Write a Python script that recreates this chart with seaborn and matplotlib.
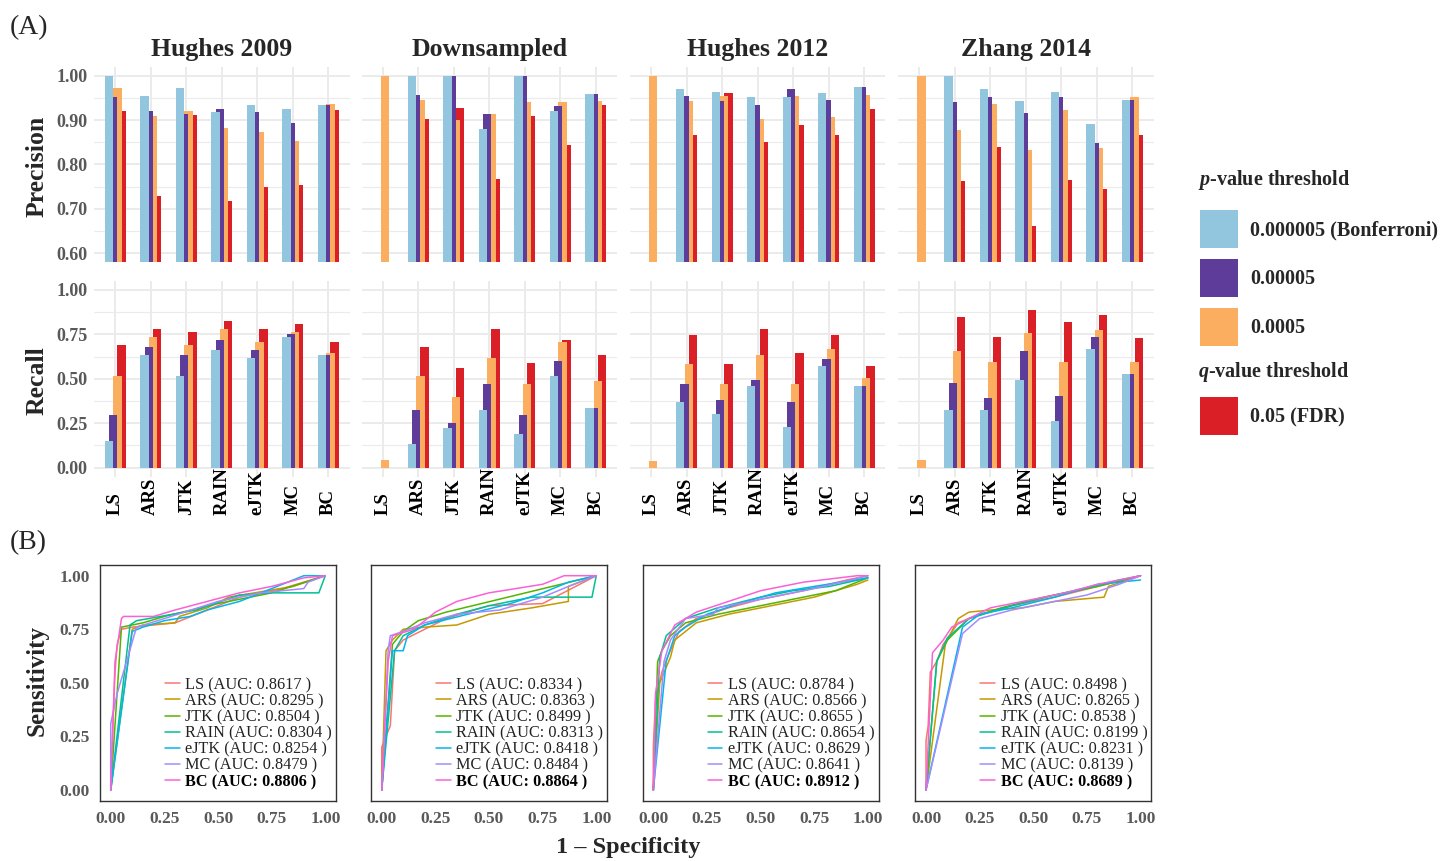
import numpy as np
import pandas as pd
import matplotlib
matplotlib.use("Agg")
import matplotlib.pyplot as plt
import seaborn as sns
from matplotlib.patches import Patch

sns.set_style("white")
plt.rcParams['font.family'] = ['Liberation Serif', 'DejaVu Serif']
plt.rcParams['font.weight'] = 'bold'
plt.rcParams['mathtext.fontset'] = 'custom'
plt.rcParams['mathtext.it'] = 'Liberation Serif:italic:bold'
plt.rcParams['mathtext.rm'] = 'Liberation Serif:bold'

# ---------------- data ----------------
datasets = ["Hughes 2009", "Downsampled", "Hughes 2012", "Zhang 2014"]
methods = ["LS", "ARS", "JTK", "RAIN", "eJTK", "MC", "BC"]
thresholds = ["0.000005 (Bonferroni)", "0.00005", "0.0005", "0.05 (FDR)"]
threshold_colors = ["#92C5DE", "#5E3C99", "#FBAD60", "#DA1F26"]
nan = np.nan

# precision: rows = thresholds (Bonferroni, 5e-5, 5e-4, FDR), cols = methods
precision_hughes2009 = [[1.000, 0.955, 0.972, 0.918, 0.934, 0.925, 0.934],
                        [0.952, 0.920, 0.914, 0.925, 0.918, 0.894, 0.934],
                        [0.972, 0.909, 0.920, 0.882, 0.873, 0.853, 0.936],
                        [0.920, 0.728, 0.911, 0.718, 0.748, 0.754, 0.923]]
precision_downsampled = [[nan, 1.000, 1.000, 0.880, 1.000, 0.920, 0.959],
                         [nan, 0.956, 1.000, 0.914, 1.000, 0.932, 0.959],
                         [1.000, 0.945, 0.900, 0.914, 0.941, 0.941, 0.943],
                         [nan, 0.902, 0.927, 0.767, 0.909, 0.844, 0.934]]
precision_hughes2012 = [[nan, 0.970, 0.963, 0.952, 0.952, 0.961, 0.974],
                        [nan, 0.954, 0.943, 0.934, 0.970, 0.945, 0.974],
                        [1.000, 0.943, 0.954, 0.902, 0.954, 0.907, 0.956],
                        [nan, 0.866, 0.961, 0.851, 0.889, 0.866, 0.925]]
precision_zhang2014 = [[nan, 1.000, 0.970, 0.943, 0.963, 0.891, 0.945],
                       [nan, 0.941, 0.952, 0.916, 0.952, 0.848, 0.945],
                       [1.000, 0.878, 0.936, 0.833, 0.923, 0.837, 0.952],
                       [nan, 0.763, 0.839, 0.662, 0.765, 0.745, 0.866]]

recall_hughes2009 = [[0.150, 0.634, 0.516, 0.662, 0.617, 0.735, 0.634],
                     [0.296, 0.679, 0.634, 0.719, 0.662, 0.752, 0.634],
                     [0.516, 0.735, 0.690, 0.780, 0.707, 0.764, 0.645],
                     [0.690, 0.780, 0.764, 0.826, 0.780, 0.809, 0.707]]
recall_downsampled = [[0.0, 0.133, 0.223, 0.325, 0.189, 0.516, 0.336],
                      [0.0, 0.325, 0.251, 0.471, 0.296, 0.600, 0.336],
                      [0.043, 0.516, 0.398, 0.617, 0.471, 0.707, 0.488],
                      [0.0, 0.679, 0.561, 0.780, 0.589, 0.719, 0.634]]
recall_hughes2012 = [[0.0, 0.370, 0.302, 0.460, 0.229, 0.572, 0.460],
                     [0.0, 0.471, 0.381, 0.493, 0.370, 0.612, 0.460],
                     [0.038, 0.583, 0.471, 0.634, 0.471, 0.668, 0.505],
                     [0.0, 0.747, 0.583, 0.780, 0.645, 0.747, 0.572]]
recall_zhang2014 = [[0.0, 0.325, 0.325, 0.493, 0.263, 0.668, 0.527],
                    [0.0, 0.477, 0.392, 0.657, 0.403, 0.735, 0.527],
                    [0.043, 0.657, 0.595, 0.758, 0.595, 0.775, 0.595],
                    [0.0, 0.848, 0.735, 0.887, 0.820, 0.859, 0.730]]

precision_sets = [precision_hughes2009, precision_downsampled, precision_hughes2012, precision_zhang2014]
recall_sets = [recall_hughes2009, recall_downsampled, recall_hughes2012, recall_zhang2014]

# ROC curves (1 - specificity, sensitivity)
roc_colors = ["#F8766D", "#C49A00", "#53B400", "#00C094", "#00B6EB", "#A58AFF", "#FB61D7"]

auc_hughes2009 = [0.8617, 0.8295, 0.8504, 0.8304, 0.8254, 0.8479, 0.8806]
auc_downsampled = [0.8334, 0.8363, 0.8499, 0.8313, 0.8418, 0.8484, 0.8864]
auc_hughes2012 = [0.8784, 0.8566, 0.8655, 0.8654, 0.8629, 0.8641, 0.8912]
auc_zhang2014 = [0.8498, 0.8265, 0.8538, 0.8199, 0.8231, 0.8139, 0.8689]

roc_fpr_hughes2009 = {
    "LS":   [0, 0.01, 0.02, 0.03, 0.05, 0.10, 0.30, 0.40, 0.60, 0.80, 0.90, 1],
    "ARS":  [0, 0.10, 0.15, 0.30, 0.32, 0.45, 0.55, 0.85, 1],
    "JTK":  [0, 0.05, 0.15, 0.25, 0.50, 0.75, 1],
    "RAIN": [0, 0.09, 0.12, 0.40, 0.60, 0.75, 0.97, 1],
    "eJTK": [0, 0.10, 0.15, 0.25, 0.37, 0.45, 0.60, 0.75, 0.90, 1],
    "MC":   [0, 0, 0.03, 0.08, 0.12, 0.25, 0.50, 0.70, 0.90, 0.92, 1],
    "BC":   [0, 0.02, 0.05, 0.06, 0.20, 0.30, 0.45, 0.60, 0.75, 0.90, 1]}
roc_tpr_hughes2009 = {
    "LS":   [0, 0.30, 0.55, 0.68, 0.75, 0.76, 0.78, 0.82, 0.90, 0.94, 0.97, 1],
    "ARS":  [0, 0.75, 0.77, 0.78, 0.81, 0.85, 0.90, 0.95, 1],
    "JTK":  [0, 0.76, 0.78, 0.81, 0.87, 0.92, 1],
    "RAIN": [0, 0.77, 0.79, 0.84, 0.91, 0.92, 0.92, 1],
    "eJTK": [0, 0.74, 0.76, 0.79, 0.81, 0.84, 0.88, 0.94, 1.00, 1],
    "MC":   [0, 0.31, 0.45, 0.62, 0.76, 0.80, 0.88, 0.92, 0.94, 0.97, 1],
    "BC":   [0, 0.60, 0.80, 0.81, 0.81, 0.84, 0.88, 0.92, 0.95, 0.99, 1]}

roc_fpr_downsampled = {
    "LS":   [0, 0, 0.04, 0.06, 0.10, 0.20, 0.30, 0.50, 0.75, 1],
    "ARS":  [0, 0.02, 0.05, 0.10, 0.20, 0.35, 0.50, 0.70, 0.87, 0.87, 1],
    "JTK":  [0, 0.05, 0.10, 0.17, 0.30, 1],
    "RAIN": [0, 0.06, 0.10, 0.20, 0.35, 0.50, 0.70, 0.98, 1],
    "eJTK": [0, 0.05, 0.10, 0.12, 0.20, 0.40, 0.60, 0.75, 0.87, 1],
    "MC":   [0, 0.03, 0.04, 0.10, 0.20, 0.35, 0.55, 0.75, 0.87, 1],
    "BC":   [0, 0.03, 0.05, 0.15, 0.25, 0.35, 0.50, 0.75, 0.85, 1]}
roc_tpr_downsampled = {
    "LS":   [0, 0.20, 0.30, 0.65, 0.70, 0.75, 0.80, 0.86, 0.87, 1],
    "ARS":  [0, 0.65, 0.70, 0.75, 0.76, 0.77, 0.82, 0.85, 0.88, 0.95, 1],
    "JTK":  [0, 0.68, 0.74, 0.79, 0.83, 1],
    "RAIN": [0, 0.65, 0.72, 0.77, 0.82, 0.86, 0.90, 0.90, 1],
    "eJTK": [0, 0.65, 0.65, 0.72, 0.77, 0.82, 0.87, 0.92, 0.97, 1],
    "MC":   [0, 0.65, 0.72, 0.74, 0.78, 0.82, 0.84, 0.90, 0.95, 1],
    "BC":   [0, 0.60, 0.72, 0.75, 0.83, 0.88, 0.92, 0.96, 1.00, 1]}

roc_fpr_hughes2012 = {
    "LS":   [0, 0, 0.01, 0.04, 0.07, 0.12, 0.20, 0.35, 0.50, 0.70, 0.90, 1],
    "ARS":  [0, 0.03, 0.08, 0.10, 0.20, 0.35, 0.55, 0.75, 0.95, 1],
    "JTK":  [0, 0.02, 0.04, 0.08, 0.15, 0.30, 0.50, 0.70, 0.85, 1],
    "RAIN": [0, 0.03, 0.06, 0.15, 0.30, 0.50, 0.65, 0.82, 1],
    "eJTK": [0, 0.06, 0.10, 0.15, 0.25, 0.40, 0.57, 0.75, 1],
    "MC":   [0, 0.05, 0.08, 0.15, 0.28, 0.30, 0.50, 0.75, 1],
    "BC":   [0, 0.01, 0.04, 0.10, 0.20, 0.35, 0.50, 0.70, 0.95, 1]}
roc_tpr_hughes2012 = {
    "LS":   [0, 0.20, 0.42, 0.55, 0.63, 0.74, 0.80, 0.85, 0.89, 0.93, 0.98, 1],
    "ARS":  [0, 0.50, 0.62, 0.70, 0.78, 0.82, 0.86, 0.90, 0.96, 0.98],
    "JTK":  [0, 0.60, 0.65, 0.72, 0.78, 0.82, 0.86, 0.90, 0.93, 0.99],
    "RAIN": [0, 0.62, 0.72, 0.80, 0.85, 0.90, 0.93, 0.95, 0.99],
    "eJTK": [0, 0.60, 0.72, 0.76, 0.82, 0.87, 0.92, 0.95, 0.99],
    "MC":   [0, 0.60, 0.70, 0.80, 0.82, 0.85, 0.89, 0.94, 1],
    "BC":   [0, 0.45, 0.65, 0.77, 0.83, 0.88, 0.93, 0.97, 1.00, 1]}

roc_fpr_zhang2014 = {
    "LS":   [0, 0, 0.01, 0.02, 0.05, 0.08, 0.15, 0.25, 0.40, 0.60, 0.80, 1],
    "ARS":  [0, 0.09, 0.15, 0.20, 0.30, 0.45, 0.60, 0.83, 0.85, 1],
    "JTK":  [0, 0.05, 0.10, 0.20, 0.35, 0.55, 0.80, 1],
    "RAIN": [0, 0.05, 0.10, 0.20, 0.40, 0.60, 0.82, 0.90, 1],
    "eJTK": [0, 0.17, 0.25, 0.40, 0.60, 0.80, 1],
    "MC":   [0, 0.17, 0.25, 0.40, 0.60, 0.75, 0.90, 1],
    "BC":   [0, 0.03, 0.08, 0.12, 0.20, 0.30, 0.45, 0.65, 0.80, 1]}
roc_tpr_zhang2014 = {
    "LS":   [0, 0.23, 0.30, 0.55, 0.60, 0.68, 0.78, 0.82, 0.86, 0.90, 0.95, 1],
    "ARS":  [0, 0.68, 0.80, 0.83, 0.84, 0.85, 0.88, 0.90, 0.95, 1],
    "JTK":  [0, 0.60, 0.70, 0.80, 0.85, 0.90, 0.95, 1],
    "RAIN": [0, 0.60, 0.71, 0.80, 0.86, 0.91, 0.96, 0.98, 1],
    "eJTK": [0, 0.76, 0.82, 0.85, 0.90, 0.96, 0.98],
    "MC":   [0, 0.73, 0.80, 0.84, 0.88, 0.91, 0.96, 1],
    "BC":   [0, 0.64, 0.70, 0.76, 0.80, 0.85, 0.88, 0.92, 0.96, 1]}

roc_fpr_sets = [roc_fpr_hughes2009, roc_fpr_downsampled, roc_fpr_hughes2012, roc_fpr_zhang2014]
roc_tpr_sets = [roc_tpr_hughes2009, roc_tpr_downsampled, roc_tpr_hughes2012, roc_tpr_zhang2014]
auc_sets = [auc_hughes2009, auc_downsampled, auc_hughes2012, auc_zhang2014]

# ---------------- figure ----------------
W, H = 1443, 861
fig = plt.figure(figsize=(W / 100, H / 100), dpi=100)

def rect(left, top, width, height):
    return [left / W, 1 - (top + height) / H, width / W, height / H]

bar_lefts = [94, 361.5, 629.8, 898.1]
bar_w = 255.6
tick_grey = "#595959"
grid_col = "#EBEBEB"


def bar_panel(ax, values, ylim, yticks, yminor, show_y, show_x):
    rows = []
    for t, vals in zip(thresholds, values):
        for m, v in zip(methods, vals):
            rows.append((m, t, v))
    df = pd.DataFrame(rows, columns=["method", "threshold", "value"])
    sns.barplot(data=df, x="method", y="value", hue="threshold", order=methods,
                hue_order=thresholds, palette=threshold_colors, saturation=1,
                width=0.472, dodge=True, legend=False, linewidth=0,
                errorbar=None, ax=ax)
    for k, cont in enumerate(ax.containers):
        for p in cont:
            c = p.get_x() + p.get_width() / 2
            p.set_width(0.234)
            p.set_x(c - 0.117)
            p.set_zorder(6 - k)
    ax.set_xlim(-0.6, 6.6)
    ax.set_ylim(*ylim)
    ax.set_yticks(yticks)
    ax.set_yticks(yminor, minor=True)
    ax.set_xticks(range(len(methods)))
    ax.set_axisbelow(True)
    ax.grid(True, which='major', axis='both', color=grid_col, lw=1.4, zorder=0)
    ax.grid(True, which='minor', axis='y', color=grid_col, lw=0.8, zorder=0)
    ax.xaxis.grid(True, which='major', color=grid_col, lw=1.4)
    for s in ax.spines.values():
        s.set_visible(False)
    ax.tick_params(which='both', length=0)
    ax.set_xlabel("")
    ax.set_ylabel("")
    if show_y:
        ax.set_yticklabels([f"{v:.2f}" for v in yticks], fontsize=13,
                           color=tick_grey, fontweight='bold')
        ax.tick_params(axis='y', pad=4.5)
    else:
        ax.set_yticklabels([])
    if show_x:
        ax.set_xticklabels(methods, rotation=90, va='bottom', fontsize=13.5,
                           color='black', fontweight='bold')
        ax.tick_params(axis='x', pad=27.6)
    else:
        ax.set_xticklabels([])


for i, ds in enumerate(datasets):
    axp = fig.add_axes(rect(bar_lefts[i], 66.8, bar_w, 195.1))
    bar_panel(axp, precision_sets[i], (0.58, 1.02),
              [0.6, 0.7, 0.8, 0.9, 1.0], [0.65, 0.75, 0.85, 0.95],
              i == 0, False)
    axp.set_title(ds, fontsize=18.5, fontweight='bold', pad=8)
    axr = fig.add_axes(rect(bar_lefts[i], 281.1, bar_w, 195.5))
    bar_panel(axr, recall_sets[i], (-0.05, 1.05),
              [0.0, 0.25, 0.5, 0.75, 1.0], [0.125, 0.375, 0.625, 0.875],
              i == 0, True)

# ROC panels
roc_lefts = [100, 371, 642.6, 915.3]
for i, ds in enumerate(datasets):
    ax = fig.add_axes(rect(roc_lefts[i], 565, 236, 235.7))
    rows = []
    for m in methods:
        for k, (x, y) in enumerate(zip(roc_fpr_sets[i][m], roc_tpr_sets[i][m])):
            rows.append((m, k, x, y))
    df = pd.DataFrame(rows, columns=["method", "step", "fpr", "tpr"])
    sns.lineplot(data=df, x="fpr", y="tpr", hue="method", hue_order=methods,
                 palette=roc_colors, estimator=None, sort=False, units="method",
                 lw=1.1, legend=False, ax=ax)
    ax.set_xlim(-0.05, 1.05)
    ax.set_ylim(-0.05, 1.05)
    ticks = [0, 0.25, 0.5, 0.75, 1.0]
    ax.set_xticks(ticks)
    ax.set_yticks(ticks)
    ax.set_xticklabels([f"{t:.2f}" for t in ticks], fontsize=12.5,
                       color=tick_grey, fontweight='bold')
    if i == 0:
        ax.set_yticklabels([f"{t:.2f}" for t in ticks], fontsize=12.5,
                           color=tick_grey, fontweight='bold')
    else:
        ax.set_yticklabels([])
    ax.tick_params(length=3.5, width=0.8, color="#333333", pad=4)
    for s in ax.spines.values():
        s.set_visible(True)
        s.set_color("#333333")
        s.set_linewidth(1.0)
    ax.set_xlabel("")
    ax.set_ylabel("")
    labels = [f"{m} (AUC: {a:.4f} )" for m, a in zip(methods, auc_sets[i])]
    leg = ax.legend(ax.lines, labels, loc='upper left',
                    bbox_to_anchor=(0.276, 0.525), frameon=False,
                    prop={'family': 'Liberation Serif', 'size': 11.7, 'weight': 'normal'},
                    labelspacing=0.01, handlelength=0.9, handletextpad=0.35,
                    borderpad=0, borderaxespad=0)
    for t in leg.get_texts():
        t.set_color("#222222")
    leg.get_texts()[-1].set_fontweight('bold')
    leg.get_texts()[-1].set_color("black")

# axis labels
fig.text(37 / W, 1 - 166 / H, "Precision", rotation=90, ha='center', va='center',
         fontsize=18.5, fontweight='bold')
fig.text(37 / W, 1 - 381 / H, "Recall", rotation=90, ha='center', va='center',
         fontsize=18.5, fontweight='bold')
fig.text(37 / W, 1 - 681 / H, "Sensitivity", rotation=90, ha='center', va='center',
         fontsize=18, fontweight='bold')
fig.text(628 / W, 1 - 848 / H, "1 \u2013 Specificity", ha='center', va='center',
         fontsize=17.5, fontweight='bold')
fig.text(10 / W, 1 - 28 / H, "(A)", ha='left', va='center', fontsize=20,
         fontweight='normal')
fig.text(10 / W, 1 - 543 / H, "(B)", ha='left', va='center', fontsize=20,
         fontweight='normal')

# threshold legends
fig.text(1198 / W, 1 - 180 / H, r"$p$-value threshold", ha='left', va='center',
         fontsize=14.5, fontweight='bold')
fig.text(1198 / W, 1 - 372 / H, r"$q$-value threshold", ha='left', va='center',
         fontsize=14.5, fontweight='bold')
p_handles = [Patch(facecolor=c, edgecolor='none') for c in threshold_colors[:3]]
fig.legend(p_handles, thresholds[:3], loc='upper left',
           bbox_to_anchor=(1200 / W, 1 - 210 / H), frameon=False,
           prop={'family': 'Liberation Serif', 'size': 14.5, 'weight': 'bold'},
           handlelength=1.9, handleheight=2.53, labelspacing=0.55,
           handletextpad=0.6, borderpad=0, borderaxespad=0)
q_handles = [Patch(facecolor=threshold_colors[3], edgecolor='none')]
fig.legend(q_handles, thresholds[3:], loc='upper left',
           bbox_to_anchor=(1200 / W, 1 - 397 / H), frameon=False,
           prop={'family': 'Liberation Serif', 'size': 14.5, 'weight': 'bold'},
           handlelength=1.9, handleheight=2.53, labelspacing=0.55,
           handletextpad=0.6, borderpad=0, borderaxespad=0)

fig.savefig("out.png", dpi=100)
